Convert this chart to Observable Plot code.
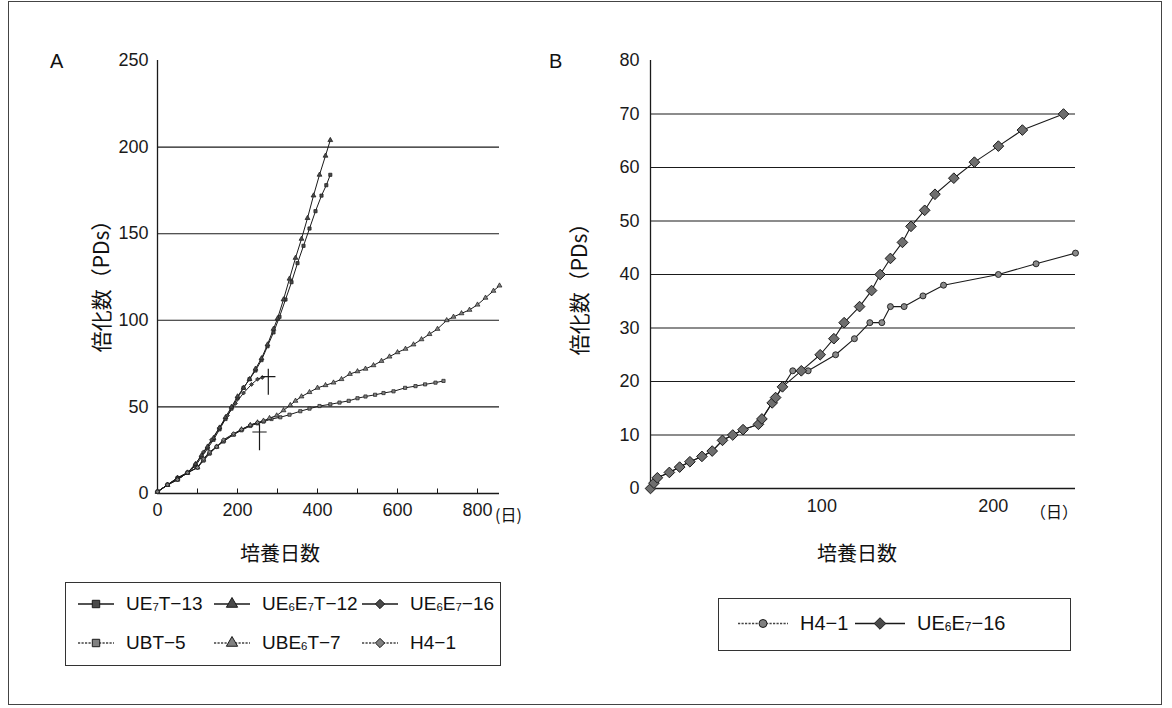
<!DOCTYPE html>
<html>
<head>
<meta charset="utf-8">
<script src="https://cdn.jsdelivr.net/npm/d3@7"></script>
<script src="https://cdn.jsdelivr.net/npm/@observablehq/plot@0.6"></script>
<style>
  body { margin: 0; background: #fff; }
  #fig { position: relative; width: 1172px; height: 708px; background: #fff; overflow: hidden;
         font-family: "Liberation Sans", Arial, "Noto Sans CJK JP", sans-serif; color: #111; }
  .abs { position: absolute; white-space: nowrap; }
  .jp { font-family: "Noto Sans CJK JP", "Liberation Sans", sans-serif; }
  .frame { position: absolute; left: 8px; top: 1px; width: 1154px; height: 704px; border: 1px solid #444; box-sizing: border-box; }
  .lbox { position: absolute; border: 1.3px solid #333; box-sizing: border-box; }
  .litem { position: absolute; display: flex; align-items: center; font-size: 19px; transform: translateY(-50%); white-space: nowrap; }
  .litem svg { margin-right: 10px; }
  sub { font-size: 0.6em; vertical-align: baseline; position: relative; top: 0.05em; }
</style>
</head>
<body>
<div id="fig">
  <div class="frame"></div>
  <div id="plotA" class="abs" style="left:0;top:0"></div>
  <div id="plotB" class="abs" style="left:560px;top:0"></div>
</div>
<script>
// ---------------- Data: Panel A ----------------
const seriesA = ["UE7T-13", "UE6E7T-12", "UE6E7-16", "UBT-5", "UBE6T-7", "H4-1"];

const daysUE7T13 = [0,25,50,75,95,110,125,140,155,170,185,200,215,230,245,260,275,290,305,320,335,350,365,380,395,410,422,432];
const pdsUE7T13  = [1,5,9,12,16,21,26,31,37,43,49,55,61,66,71,77,85,93,102,112,122,133,143,153,163,172,178,184];

const daysUE6E7T12 = [0,25,50,75,95,110,125,140,155,170,185,200,215,230,245,260,275,290,300,315,330,345,360,375,390,405,420,432];
const pdsUE6E7T12  = [1,5,9,12,17,22,27,32,38,44,50,56,61,66,72,78,86,95,101,112,124,136,147,159,172,184,195,204];

const daysUE6E716A = [0,25,50,75,95,115,135,155,175,195,215,235,250,262];
const pdsUE6E716A  = [1,5,9,12,17,24,31,38,45,52,58,63,66,67];

const daysUBT5 = [0,25,50,75,100,115,130,148,165,190,210,232,250,265,285,307,330,357,380,405,432,455,478,500,520,544,565,590,619,645,669,695,715];
const pdsUBT5  = [1,5,8,12,15,19,23,27,30,34,36.5,39,40.5,41.5,43,44,45.5,47.5,49,50.5,51.5,52.5,53.5,55,56,57,58,59,61,62,63,64,65];

const daysUBE6T7 = [0,25,50,75,100,115,130,148,165,190,210,232,250,265,280,298,315,332,345,360,380,400,420,440,460,481,500,520,540,560,580,600,620,640,660,680,700,723,740,760,780,800,820,840,855];
const pdsUBE6T7  = [1,5,8,12,15,19.5,23.5,27,30.5,34,37,39.5,41,42,43.5,45,48,51,53.5,56,58.5,61,62.5,64,66,69,70.5,72,74,76.5,79,81.5,83.5,86,89,92,95,100,102,104,106,109,113,117,120];

const daysH41A = [0,25,50,75,100,115,130,148,165,190,210,232,250];
const pdsH41A  = [1,5,8,12,15,20,24,27,31,34.5,37,39.5,41];

// crisis markers (†) in panel A: day, PDs at the cross's centre
const daggerDays = [277, 255];
const daggerPds  = [64.5, 32.5];

const ticksYA = [0, 50, 100, 150, 200, 250];
const gridYA = [50, 100, 150, 200];
const labelDaysA = [0, 200, 400, 600, 800];
const tickDaysA = [0, 100, 200, 300, 400, 500, 600, 700, 800];

// ---------------- Data: Panel B ----------------
const seriesB = ["H4-1", "UE6E7-16"];
const daysH41B = [0,2,4,11,17,23,30,36,42,48,54,63,65,71,73,77,83,92,108,119,128,135,140,148,159,171,203,225,248];
const pdsH41B  = [0,1,2,3,4,5,6,7,9,10,11,12,13,16,17,19,22,22,25,28,31,31,34,34,36,38,40,42,44];

const daysUE6E716B = [0,2,4,11,17,23,30,36,42,48,54,63,65,71,73,77,88,99,107,113,122,129,134,140,147,152,160,166,177,189,203,217,241];
const pdsUE6E716B  = [0,1,2,3,4,5,6,7,9,10,11,12,13,16,17,19,22,25,28,31,34,37,40,43,46,49,52,55,58,61,64,67,70];

const ticksYB = [0,10,20,30,40,50,60,70,80];
const gridYB = [10,20,30,40,50,60,70];
const labelDaysB = [100, 200];

// ---------------- Build tables ----------------
const tableA = [
  [seriesA[0], daysUE7T13, pdsUE7T13],
  [seriesA[1], daysUE6E7T12, pdsUE6E7T12],
  [seriesA[2], daysUE6E716A, pdsUE6E716A],
  [seriesA[3], daysUBT5, pdsUBT5],
  [seriesA[4], daysUBE6T7, pdsUBE6T7],
  [seriesA[5], daysH41A, pdsH41A]
].flatMap(([s, ds, ps]) => ds.map((d, i) => ({series: s, day: d, pds: ps[i]})));

const tableB = [
  [seriesB[0], daysH41B, pdsH41B],
  [seriesB[1], daysUE6E716B, pdsUE6E716B]
].flatMap(([s, ds, ps]) => ds.map((d, i) => ({series: s, day: d, pds: ps[i]})));

const daggers = daggerDays.map((d, i) => ({day: d, pds: daggerPds[i]}));

// styles
const symA = {"UE7T-13": "square", "UE6E7T-12": "triangle", "UE6E7-16": "diamond2",
              "UBT-5": "square", "UBE6T-7": "triangle", "H4-1": "diamond2"};
const lightA = new Set(["UBT-5", "UBE6T-7", "H4-1"]);
const INK = "#1a1a1a";

// thin dagger cross (†) drawn as a custom symbol
const daggerSymbol = {
  draw(ctx, size) {
    const r = Math.sqrt(size / Math.PI);
    ctx.moveTo(0, -r); ctx.lineTo(0, r);
    ctx.moveTo(-0.55 * r, -0.4 * r); ctx.lineTo(0.55 * r, -0.4 * r);
  }
};

const style = {fontFamily: "'Liberation Sans', Arial, sans-serif", fontSize: "18px", color: INK, background: "transparent", overflow: "visible"};

// ---------------- Plot A ----------------
const plotA = Plot.plot({
  width: 560, height: 540,
  marginLeft: 157, marginRight: 61, marginTop: 60, marginBottom: 47,
  style,
  x: {domain: [0, 855], label: null},
  y: {domain: [0, 250], label: null},
  symbol: {domain: seriesA, range: seriesA.map(s => symA[s])},
  marks: [
    Plot.ruleY(gridYA, {stroke: INK, strokeWidth: 1.1}),
    Plot.ruleX(tickDaysA, {y1: 0, y2: 2.6, stroke: INK, strokeWidth: 1}),
    Plot.axisY({ticks: ticksYA, tickSize: 0, tickPadding: 9, fontSize: 18, label: null}),
    Plot.axisX({ticks: labelDaysA, tickSize: 0, tickPadding: 10, fontSize: 18, label: null}),
    Plot.ruleX([0], {stroke: INK, strokeWidth: 1.3}),
    Plot.ruleY([0], {stroke: INK, strokeWidth: 1.3}),
    Plot.line(tableA, {x: "day", y: "pds", z: "series", stroke: INK, strokeWidth: 1}),
    Plot.dot(tableA, {x: "day", y: "pds", symbol: "series", r: 1.8,
      fill: d => lightA.has(d.series) ? "#808080" : "#4a4a4a", stroke: INK, strokeWidth: 0.7}),
    Plot.dot(daggers, {x: "day", y: "pds", symbol: () => daggerSymbol, r: 13,
      fill: "none", stroke: INK, strokeWidth: 1.2})
  ]
});
document.getElementById("plotA").appendChild(plotA);

// ---------------- Plot B ----------------
const symB = {"H4-1": "circle", "UE6E7-16": "diamond2"};
const plotB = Plot.plot({
  width: 560, height: 540,
  marginLeft: 90, marginRight: 45, marginTop: 60, marginBottom: 52,
  style,
  x: {domain: [0, 248], label: null},
  y: {domain: [0, 80], label: null},
  marks: [
    Plot.ruleY(gridYB, {stroke: INK, strokeWidth: 1.1}),
    Plot.axisY({ticks: ticksYB, tickSize: 0, tickPadding: 11, fontSize: 18, label: null}),
    Plot.axisX({ticks: labelDaysB, tickSize: 0, tickPadding: 11, fontSize: 18, label: null}),
    Plot.ruleX([0], {stroke: INK, strokeWidth: 1.3}),
    Plot.ruleY([0], {stroke: INK, strokeWidth: 1.3}),
    Plot.line(tableB, {x: "day", y: "pds", z: "series", stroke: INK, strokeWidth: 1.1}),
    Plot.dot(tableB.filter(d => d.series === "H4-1"), {x: "day", y: "pds", symbol: () => symB["H4-1"], r: 3,
      fill: "#8a8a8a", stroke: INK, strokeWidth: 0.9}),
    Plot.dot(tableB.filter(d => d.series === "UE6E7-16"), {x: "day", y: "pds", symbol: () => symB["UE6E7-16"], r: 4.8,
      fill: "#6e6e6e", stroke: INK, strokeWidth: 1})
  ]
});
document.getElementById("plotB").appendChild(plotB);

// ---------------- Labels & legends ----------------
const fig = document.getElementById("fig");
function add(html, css, cls = "abs") {
  const el = document.createElement("div");
  el.className = cls;
  el.innerHTML = html;
  el.setAttribute("style", css);
  fig.appendChild(el);
  return el;
}
const fmt = s => s.replace(/E(\d)/g, "E<sub>$1</sub>").replace(/-/g, "−");

add("A", "left:50px;top:50px;font-size:20px;");
add("B", "left:549px;top:50px;font-size:20px;");
add("倍化数（PDs）", "left:100px;top:281px;font-size:21px;transform:translate(-50%,-50%) rotate(-90deg);", "abs jp");
add("倍化数（PDs）", "left:578px;top:284px;font-size:21px;transform:translate(-50%,-50%) rotate(-90deg);", "abs jp");
add("培養日数", "left:280px;top:552px;font-size:20px;transform:translate(-50%,-50%);", "abs jp");
add("培養日数", "left:857px;top:552px;font-size:20px;transform:translate(-50%,-50%);", "abs jp");
add("(日)", "left:495px;top:502px;font-size:16px;", "abs jp");
add("（日）", "left:1030px;top:499px;font-size:16px;", "abs jp");

function swatch(symbolName, light, size, w) {
  const type = {square: d3.symbolSquare, triangle: d3.symbolTriangle, diamond2: d3.symbolDiamond2, circle: d3.symbolCircle}[symbolName];
  const path = d3.symbol(type, size)();
  const dash = light ? 'stroke-dasharray="2.2,1.3"' : "";
  const fill = light ? "#808080" : "#4a4a4a";
  const h = w / 2;
  return `<svg width="${w}" height="18" viewBox="${-h} -9 ${w} 18"><line x1="${-h + 2}" x2="${h - 2}" y1="0" y2="0" stroke="${light ? '#444' : INK}" stroke-width="1.4" ${dash}/><path d="${path}" fill="${fill}" stroke="${INK}" stroke-width="1"/></svg>`;
}

// legend A
add("", "left:65px;top:582px;width:436px;height:84px;", "lbox");
const colX = [76, 212, 360];
seriesA.forEach((s, i) => {
  const col = i % 3, row = Math.floor(i / 3);
  add(swatch(symA[s], lightA.has(s), 55, 40) + `<span>${fmt(s)}</span>`,
      `left:${colX[col]}px;top:${604 + row * 39}px;`, "litem");
});

// legend B
add("", "left:718px;top:598px;width:353px;height:53px;", "lbox");
const colXB = [736, 853];
seriesB.forEach((s, i) => {
  add(swatch(symB[s], s === "H4-1", s === "H4-1" ? 50 : 85, 54) + `<span style="font-size:20px">${fmt(s)}</span>`,
      `left:${colXB[i]}px;top:623px;`, "litem");
});
</script>
</body>
</html>
